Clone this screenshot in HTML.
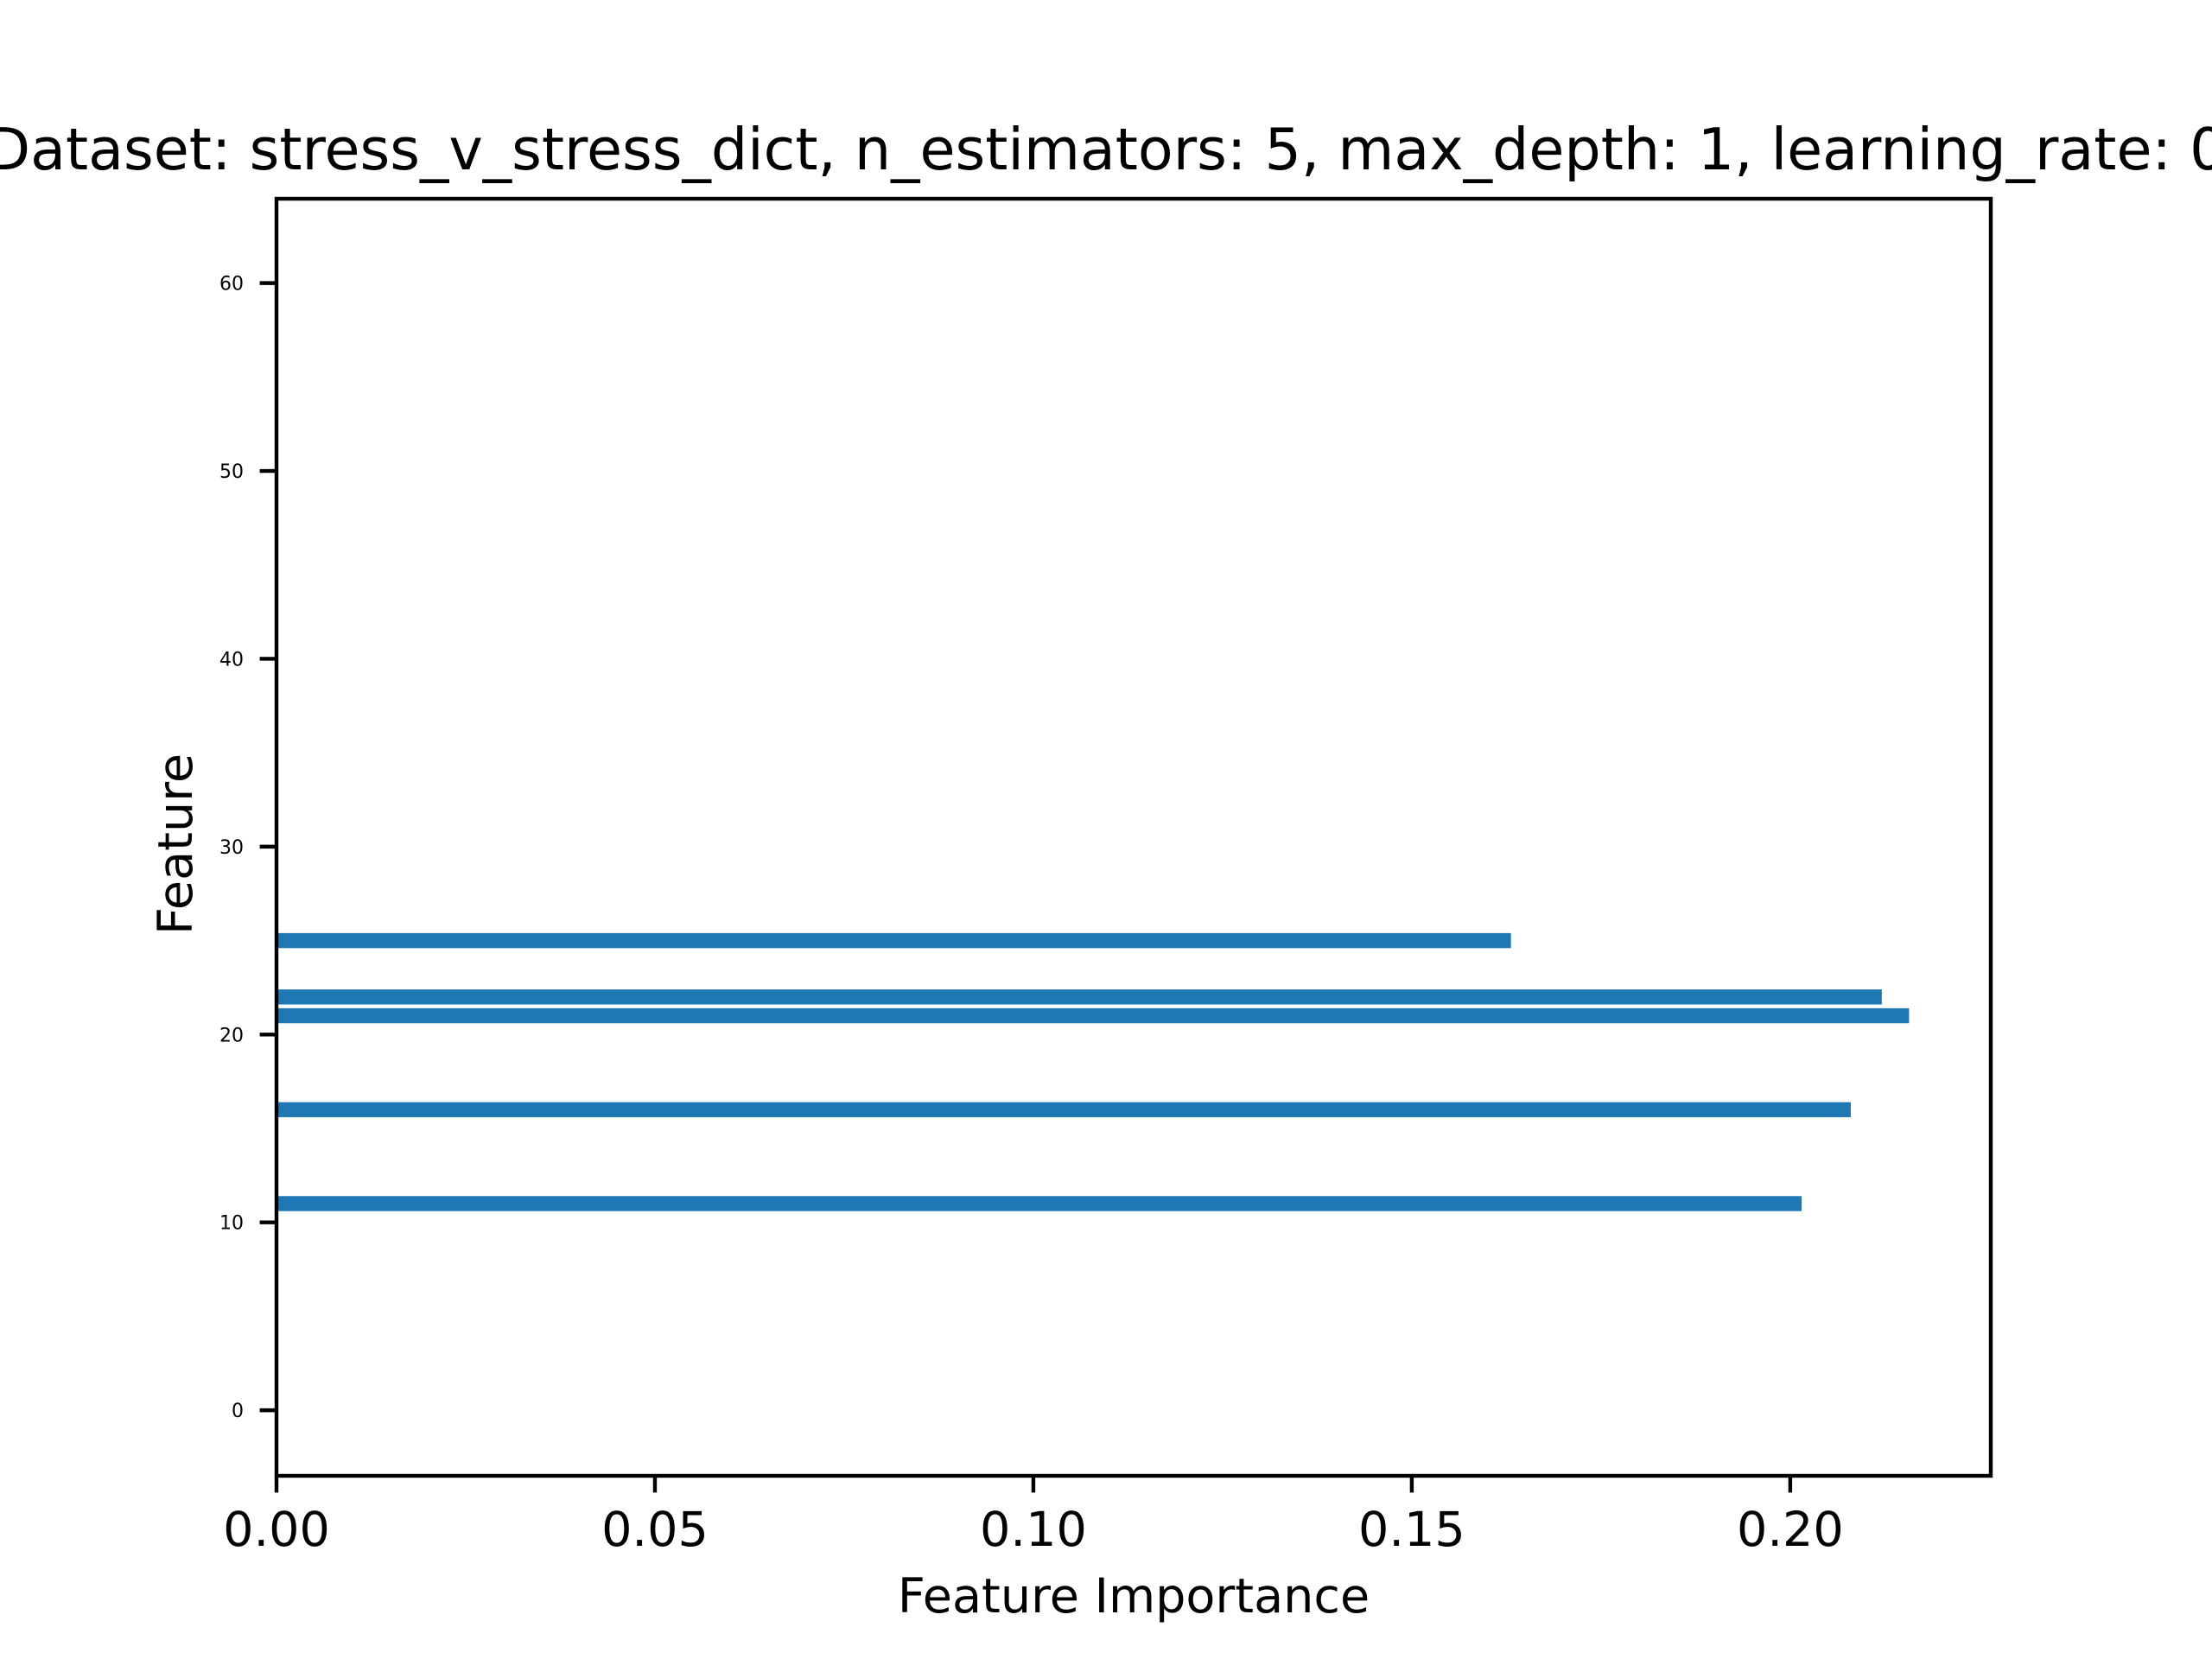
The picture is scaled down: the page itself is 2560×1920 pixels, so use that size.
<!DOCTYPE html>
<html><head><meta charset="utf-8"><style>
html,body{margin:0;padding:0;background:#fff;}
svg{display:block;font-family:"DejaVu Sans","Liberation Sans",sans-serif;}
</style></head><body>
<svg id="chart" width="2560" height="1920" viewBox="0 0 2560 1920" xmlns="http://www.w3.org/2000/svg">
<rect width="2560" height="1920" fill="#fff"/>
<text x="1312" y="196" font-size="66.7" text-anchor="middle">Dataset: stress_v_stress_dict, n_estimators: 5, max_depth: 1, learning_rate: 0.1</text>
<g id="bars"></g>
<g id="axes"></g>
<text x="1312" y="1866" font-size="55.6" text-anchor="middle">Feature Importance</text>
<text transform="translate(222,977) rotate(-90)" font-size="55.6" text-anchor="middle">Feature</text>
</svg>
<script>
const features = [11, 16, 21, 22, 25];
const importances = [0.2015, 0.2080, 0.2157, 0.2121, 0.1631];
const xTicks = [0, 0.05, 0.10, 0.15, 0.20];
const xTickLabels = ["0.00", "0.05", "0.10", "0.15", "0.20"];
const yTicks = [0, 10, 20, 30, 40, 50, 60];

const L = 320, R = 2304, T = 230, B = 1708;
const xMin = 0, xMax = 0.2265, yMin = -3.49, yMax = 64.49;
const sx = v => L + (v - xMin) / (xMax - xMin) * (R - L);
const sy = v => B - (v - yMin) / (yMax - yMin) * (B - T);
const NS = "http://www.w3.org/2000/svg";
const bars = document.getElementById('bars');
const axes = document.getElementById('axes');

features.forEach((f, i) => {
  const r = document.createElementNS(NS, 'rect');
  
  
  const y0 = sy(f + 0.4), y1 = sy(f - 0.4);
  r.setAttribute('x', sx(0));
  r.setAttribute('y', y0);
  r.setAttribute('width', sx(importances[i]) - sx(0));
  r.setAttribute('height', y1 - y0);
  r.setAttribute('fill', '#1f77b4');
  bars.appendChild(r);
});

const frame = document.createElementNS(NS, 'rect');


frame.setAttribute('x', L); frame.setAttribute('y', T);
frame.setAttribute('width', R - L); frame.setAttribute('height', B - T);
frame.setAttribute('fill', 'none'); frame.setAttribute('stroke', '#000');
frame.setAttribute('stroke-width', '4.4');
axes.appendChild(frame);

xTicks.forEach((v, i) => {
  const x = sx(v);
  const l = document.createElementNS(NS, 'line');
  
  
  l.setAttribute('x1', x); l.setAttribute('x2', x);
  l.setAttribute('y1', B); l.setAttribute('y2', B + 19.4);
  l.setAttribute('stroke', '#000'); l.setAttribute('stroke-width', '4.4');
  axes.appendChild(l);
  const t = document.createElementNS(NS, 'text');
  
  
  t.setAttribute('x', x); t.setAttribute('y', B + 39 + 42);
  t.setAttribute('font-size', '55.6'); t.setAttribute('text-anchor', 'middle');
  t.textContent = xTickLabels[i];
  axes.appendChild(t);
});

yTicks.forEach(v => {
  const y = sy(v);
  const l = document.createElementNS(NS, 'line');
  
  
  l.setAttribute('x1', L - 19.4); l.setAttribute('x2', L);
  l.setAttribute('y1', y); l.setAttribute('y2', y);
  l.setAttribute('stroke', '#000'); l.setAttribute('stroke-width', '4.4');
  axes.appendChild(l);
  const t = document.createElementNS(NS, 'text');
  
  
  t.setAttribute('x', L - 38); t.setAttribute('y', y + 8);
  t.setAttribute('font-size', '22'); t.setAttribute('text-anchor', 'end');
  t.textContent = String(v);
  axes.appendChild(t);
});
</script>
</body></html>
